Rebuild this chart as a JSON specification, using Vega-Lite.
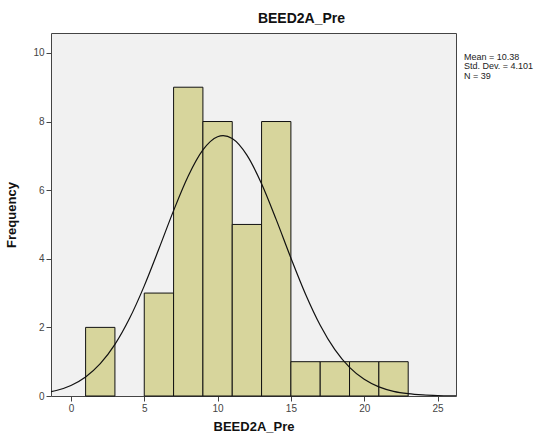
{
  "$schema": "https://vega.github.io/schema/vega-lite/v6.json",
  "width": 405,
  "height": 363,
  "autosize": {"type": "none"},
  "padding": {"left": 51, "top": 33, "right": 90, "bottom": 43},
  "background": "#ffffff",
  "title": {"text": "BEED2A_Pre", "font": "Liberation Sans", "fontSize": 14, "fontWeight": "bold", "color": "#111", "offset": 7, "anchor": "middle", "dx": 48},
  "config": {
    "view": {"fill": "#f1f1f1", "stroke": "#444", "strokeWidth": 1},
    "font": "Liberation Sans",
    "axis": {"grid": false, "domain": false, "labelFont": "Liberation Sans", "labelFontSize": 10, "labelColor": "#444", "tickColor": "#444", "tickSize": 5, "titleFont": "Liberation Sans", "titleFontSize": 13, "titleFontWeight": "bold", "titleColor": "#111"}
  },
  "datasets": {
    "bins": [
      {"bin_start": 1, "bin_end": 3, "count": 2},
      {"bin_start": 5, "bin_end": 7, "count": 3},
      {"bin_start": 7, "bin_end": 9, "count": 9},
      {"bin_start": 9, "bin_end": 11, "count": 8},
      {"bin_start": 11, "bin_end": 13, "count": 5},
      {"bin_start": 13, "bin_end": 15, "count": 8},
      {"bin_start": 15, "bin_end": 17, "count": 1},
      {"bin_start": 17, "bin_end": 19, "count": 1},
      {"bin_start": 19, "bin_end": 21, "count": 1},
      {"bin_start": 21, "bin_end": 23, "count": 1}
    ],
    "curve": [
      {"x": -1.36, "y": 0.126}, {"x": -1, "y": 0.1615}, {"x": 0, "y": 0.308}, {"x": 1, "y": 0.555},
      {"x": 2, "y": 0.941}, {"x": 3, "y": 1.503}, {"x": 4, "y": 2.263}, {"x": 5, "y": 3.21},
      {"x": 6, "y": 4.29}, {"x": 7, "y": 5.403}, {"x": 8, "y": 6.412}, {"x": 9, "y": 7.171},
      {"x": 10, "y": 7.556}, {"x": 10.38, "y": 7.588}, {"x": 11, "y": 7.502}, {"x": 12, "y": 7.019},
      {"x": 13, "y": 6.187}, {"x": 14, "y": 5.14}, {"x": 15, "y": 4.023}, {"x": 16, "y": 2.967},
      {"x": 17, "y": 2.062}, {"x": 18, "y": 1.35}, {"x": 19, "y": 0.833}, {"x": 20, "y": 0.485},
      {"x": 21, "y": 0.2655}, {"x": 22, "y": 0.137}, {"x": 23, "y": 0.0666}, {"x": 24, "y": 0.0306},
      {"x": 25, "y": 0.0132}, {"x": 26, "y": 0.0054}, {"x": 26.36, "y": 0.004}
    ]
  },
  "layer": [
    {
      "data": {"name": "bins"},
      "mark": {"type": "bar", "fill": "#d7d59c", "stroke": "#111", "strokeWidth": 1},
      "encoding": {
        "x": {"field": "bin_start", "type": "quantitative", "scale": {"domain": [-1.36, 26.26], "nice": false, "zero": false}, "axis": {"values": [0, 5, 10, 15, 20, 25], "title": "BEED2A_Pre", "titlePadding": 7}},
        "x2": {"field": "bin_end"},
        "y": {"field": "count", "type": "quantitative", "scale": {"domain": [0, 10.58], "nice": false}, "axis": {"values": [0, 2, 4, 6, 8, 10], "title": "Frequency", "titlePadding": 14}},
        "y2": {"datum": 0}
      }
    },
    {
      "data": {"name": "curve"},
      "mark": {"type": "line", "color": "#111", "strokeWidth": 1.2, "interpolate": "monotone", "clip": true},
      "encoding": {
        "x": {"field": "x", "type": "quantitative"},
        "y": {"field": "y", "type": "quantitative"}
      }
    },
    {
      "data": {"values": [{}]},
      "mark": {"type": "text", "align": "left", "baseline": "top", "fontSize": 9, "lineHeight": 9.5, "color": "#222", "clip": false, "text": ["Mean = 10.38", "Std. Dev. = 4.101", "N = 39"]},
      "encoding": {
        "x": {"datum": 26.8},
        "y": {"datum": 10.0}
      }
    }
  ]
}
